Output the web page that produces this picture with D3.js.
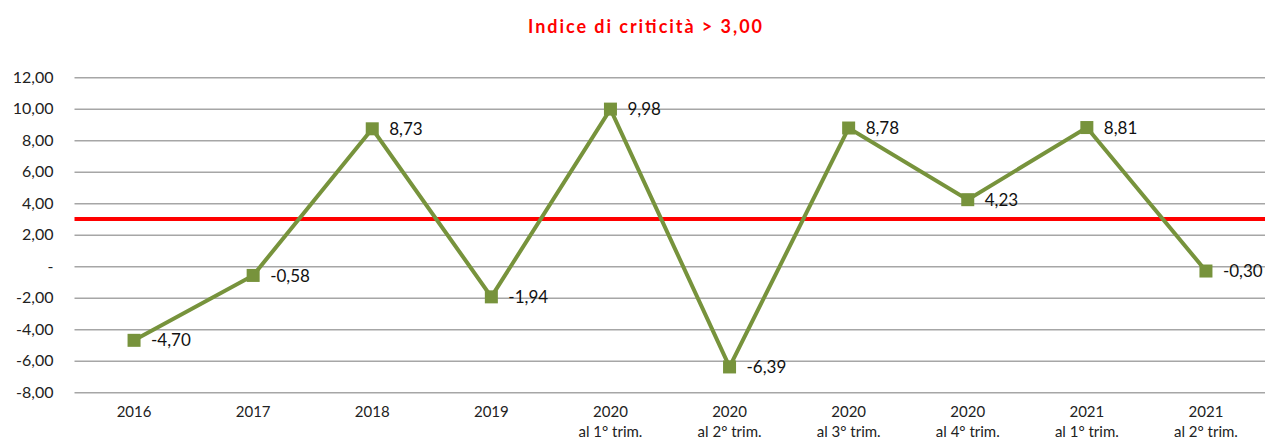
<!DOCTYPE html>
<html><head><meta charset="utf-8">
<script src="https://cdn.jsdelivr.net/npm/d3@7"></script>
<style>body{margin:0;background:#fff;} svg{display:block;font-family:Lato,"Open Sans",sans-serif;}</style>
</head><body>
<svg id="c" width="1265" height="444"></svg>
<script>
const categories = [["2016"],["2017"],["2018"],["2019"],["2020","al 1° trim."],["2020","al 2° trim."],["2020","al 3° trim."],["2020","al 4° trim."],["2021","al 1° trim."],["2021","al 2° trim."]];
const values = [-4.70,-0.58,8.73,-1.94,9.98,-6.39,8.78,4.23,8.81,-0.30];
const yTicks = [-8,-6,-4,-2,0,2,4,6,8,10,12];
const threshold = 3.00;
const title = "Indice di criticità > 3,00";

const svg = d3.select("#c");
const L = 74.5, R = 1265.5, T = 77.3, B = 392.3;
const x = d3.scaleBand().domain(categories.map((d,i)=>i)).range([L,R]);
const y = d3.scaleLinear().domain([-8,12]).range([B,T]);
const fmt = v => v===0 ? "-" : (v<0?"-":"") + d3.format(".2f")(Math.abs(v)).replace(".",",");

svg.append("text").attr("x",645).attr("y",33).attr("text-anchor","middle")
  .attr("fill","#ff0000").attr("font-weight","bold").attr("font-size",18)
  .attr("textLength",234).attr("lengthAdjust","spacing").text(title);

const ya = svg.append("g").attr("transform",`translate(${L},0)`)
  .call(d3.axisLeft(y).tickValues(yTicks).tickFormat(fmt).tickSize(-(R-L)).tickPadding(21));
ya.select(".domain").remove();
ya.selectAll(".tick line").attr("stroke","#a6a6a6").attr("stroke-width",1.6);
ya.selectAll(".tick text").attr("font-size",16).attr("fill","#222").attr("font-family","Lato,sans-serif");

svg.append("line").attr("x1",L).attr("x2",R).attr("y1",y(threshold)).attr("y2",y(threshold))
  .attr("stroke","#ff0000").attr("stroke-width",4);

const xa = svg.append("g").attr("transform",`translate(0,${B})`)
  .call(d3.axisBottom(x).tickSize(0).tickFormat(""));
xa.select(".domain").remove();
xa.selectAll(".tick").each(function(d){
  const t = d3.select(this).append("text").attr("text-anchor","middle").attr("fill","#222")
    .attr("font-size",15).attr("font-family","Lato,sans-serif");
  categories[d].forEach((s,j)=>t.append("tspan").attr("x",0).attr("y",25+j*20).text(s));
});

const cx = i => x(i)+x.bandwidth()/2;
svg.append("path").datum(values)
  .attr("d",d3.line().x((d,i)=>cx(i)).y(d=>y(d)))
  .attr("fill","none").attr("stroke","#77933c").attr("stroke-width",4).attr("stroke-linejoin","miter");

svg.selectAll("rect.m").data(values).join("rect").attr("class","m")
  .attr("x",(d,i)=>cx(i)-6.5).attr("y",d=>y(d)-6.5).attr("width",13).attr("height",13)
  .attr("fill","#77933c");

svg.selectAll("text.lbl").data(values).join("text").attr("class","lbl")
  .attr("x",(d,i)=>cx(i)+17).attr("y",d=>y(d)).attr("dy","0.36em")
  .attr("font-size",17).attr("fill","#111").text(d=>fmt(d));
</script>
</body></html>
